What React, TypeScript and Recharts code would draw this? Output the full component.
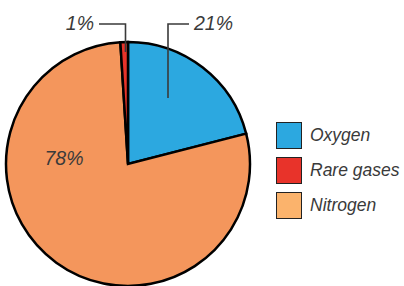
import React from 'react';
import { PieChart, Pie, Cell, Legend } from 'recharts';

// slices, clockwise from 12 o'clock
const sliceNames = ['Oxygen', 'Nitrogen', 'Rare gases'];
const sliceValues = [21, 78, 1];
const sliceLabels = ['21%', '78%', '1%'];

// legend order differs from slice order
const legendNames = ['Oxygen', 'Rare gases', 'Nitrogen'];

const pieColors: Record<string, string> = {
  Oxygen: '#2ca8e0',
  Nitrogen: '#f4965c',
  'Rare gases': '#e8332a',
};
const legendColors: Record<string, string> = {
  Oxygen: '#2ca8e0',
  Nitrogen: '#fbb36c',
  'Rare gases': '#e8332a',
};

const chartData = sliceNames.map((name, i) => ({
  name,
  value: sliceValues[i],
  label: sliceLabels[i],
}));

const FONT = '"Liberation Sans", Arial, sans-serif';
const INK = '#3a3a3a';

// label placement relative to the pie centre
const renderLabel = (props: any) => {
  const { cx, cy, index } = props;
  const text = chartData[index].label;
  const common = {
    fontFamily: FONT,
    fontStyle: 'italic' as const,
    fontSize: 19.5,
    fill: INK,
  };
  if (chartData[index].name === 'Oxygen') {
    const lx = cx + 40;
    const ty = cy - 140;
    return (
      <g key="lbl-o">
        <polyline
          points={`${lx},${cy - 66} ${lx},${ty} ${cx + 61},${ty}`}
          fill="none"
          stroke={INK}
          strokeWidth={1.6}
        />
        <text x={cx + 66} y={ty + 6} textAnchor="start" {...common}>
          {text}
        </text>
      </g>
    );
  }
  if (chartData[index].name === 'Rare gases') {
    const lx = cx - 2.5;
    const ty = cy - 140;
    return (
      <g key="lbl-r">
        <polyline
          points={`${lx},${cy - 112} ${lx},${ty} ${cx - 29},${ty}`}
          fill="none"
          stroke={INK}
          strokeWidth={1.6}
        />
        <text x={cx - 34} y={ty + 6} textAnchor="end" {...common}>
          {text}
        </text>
      </g>
    );
  }
  return (
    <text key="lbl-n" x={cx - 64} y={cy + 1} textAnchor="middle" {...common}>
      {text}
    </text>
  );
};

const CustomLegend = () => (
  <div style={{ fontFamily: FONT }}>
    {legendNames.map((name) => (
      <div
        key={name}
        style={{ display: 'flex', alignItems: 'center', height: 27, marginBottom: 8 }}
      >
        <div
          style={{
            width: 24,
            height: 25,
            background: legendColors[name],
            border: '1.5px solid #222',
            marginRight: 8,
          }}
        />
        <span style={{ fontStyle: 'italic', fontSize: 17.5, color: INK }}>{name}</span>
      </div>
    ))}
  </div>
);

const App: React.FC = () => {
  return (
    <div style={{ position: 'absolute', left: 0, top: 0, background: '#fff' }}>
      <PieChart width={404} height={286} margin={{ top: 0, right: 0, bottom: 0, left: 0 }}>
        <Pie
          data={chartData}
          dataKey="value"
          nameKey="name"
          cx={128}
          cy={164}
          outerRadius={122}
          startAngle={90}
          endAngle={-270}
          stroke="#000"
          strokeWidth={2.5}
          label={renderLabel}
          labelLine={false}
          isAnimationActive={false}
        >
          {chartData.map((d) => (
            <Cell key={d.name} fill={pieColors[d.name]} />
          ))}
        </Pie>
        <Legend
          content={<CustomLegend />}
          wrapperStyle={{ position: 'absolute', left: 276, top: 122, width: 128 }}
        />
      </PieChart>
    </div>
  );
};

export default App;
